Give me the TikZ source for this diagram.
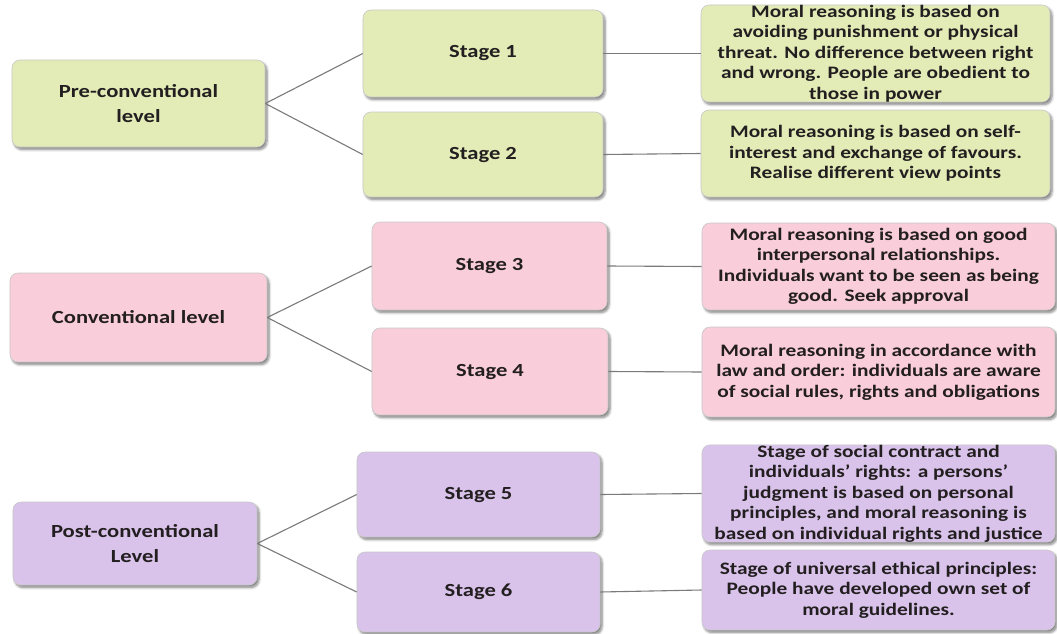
\documentclass[tikz,border=0pt]{standalone}
\usepackage{fontspec}
\setmainfont{Carlito}[FakeStretch=1.22]
\usetikzlibrary{shadows.blur}
\definecolor{gfill}{HTML}{E3ECB7}
\definecolor{pfill}{HTML}{F9CDDA}
\definecolor{vfill}{HTML}{D9C3EA}
\definecolor{edgecol}{HTML}{C8C8C8}
\definecolor{linecol}{HTML}{7A7A7A}
\definecolor{txt}{HTML}{231F20}
\tikzset{
  box/.style={draw=edgecol, line width=0.6pt, rounded corners=8pt, inner sep=0pt,
    align=center, text=txt, font=\fontsize{18.5}{25}\selectfont\bfseries,
    blur shadow={shadow xshift=2pt, shadow yshift=-2.5pt, shadow blur steps=6, shadow blur radius=2.5pt, shadow opacity=50}},
  desc/.style={font=\fontsize{17.5}{20.5}\selectfont\bfseries},
  green/.style={box, fill=gfill},
  pink/.style={box, fill=pfill},
  violet/.style={box, fill=vfill},
  conn/.style={draw=linecol, line width=1.1pt}
}
\begin{document}
\begin{tikzpicture}[x=1pt,y=-1pt]
\useasboundingbox (0,0) rectangle (1057,634);
% Pre-conventional
\node[green, minimum width=253pt, minimum height=87pt] (L1) at (138.5,103.5) {Pre-conventional\\level};
\node[green, minimum width=240pt, minimum height=87pt] (S1) at (483,53.5) {Stage 1};
\node[green, minimum width=240pt, minimum height=85pt] (S2) at (483,154.5) {Stage 2};
\node[green, desc, minimum width=349pt, minimum height=87pt] (D1) at (875.5,53.5) {Moral reasoning is based on\\avoiding punishment or physical\\threat. No difference between right\\and wrong. People are obedient to\\those in power};
\node[green, desc, minimum width=349pt, minimum height=87pt] (D2) at (875.5,153.5) {Moral reasoning is based on self-\\interest and exchange of favours.\\Realise different view points};
% Conventional
\node[pink, minimum width=257pt, minimum height=89pt] (L2) at (138.5,317.5) {Conventional level};
\node[pink, minimum width=235pt, minimum height=88pt] (S3) at (489.5,266) {Stage 3};
\node[pink, minimum width=236pt, minimum height=87pt] (S4) at (490,371.5) {Stage 4};
\node[pink, desc, minimum width=353pt, minimum height=87pt] (D3) at (878.5,266.5) {Moral reasoning is based on good\\interpersonal relationships.\\Individuals want to be seen as being\\good. Seek approval};
\node[pink, desc, minimum width=353pt, minimum height=90pt] (D4) at (878.5,372) {Moral reasoning in accordance with\\law and order: individuals are aware\\of social rules, rights and obligations};
% Post-conventional
\node[violet, minimum width=244pt, minimum height=83pt] (L3) at (135,543.5) {Post-conventional\\Level};
\node[violet, minimum width=243pt, minimum height=85pt] (S5) at (478.5,494.5) {Stage 5};
\node[violet, minimum width=243pt, minimum height=80pt] (S6) at (478.5,592) {Stage 6};
\node[violet, desc, minimum width=353pt, minimum height=83pt] (D5) at (878.5,493.5) {Stage of social contract and\\individuals’ rights: a persons’\\judgment is based on personal\\principles, and moral reasoning is\\based on individual rights and justice};
\node[violet, desc, minimum width=353pt, minimum height=80pt] (D6) at (878.5,590) {Stage of universal ethical principles:\\People have developed own set of\\moral guidelines.};
% connectors
\draw[conn] (L1.east) -- (S1.west);
\draw[conn] (L1.east) -- (S2.west);
\draw[conn] (S1.east) -- (D1.west);
\draw[conn] (S2.east) -- (D2.west);
\draw[conn] (L2.east) -- (S3.west);
\draw[conn] (L2.east) -- (S4.west);
\draw[conn] (S3.east) -- (D3.west);
\draw[conn] (S4.east) -- (D4.west);
\draw[conn] (L3.east) -- (S5.west);
\draw[conn] (L3.east) -- (S6.west);
\draw[conn] (S5.east) -- (D5.west);
\draw[conn] (S6.east) -- (D6.west);
\end{tikzpicture}
\end{document}
